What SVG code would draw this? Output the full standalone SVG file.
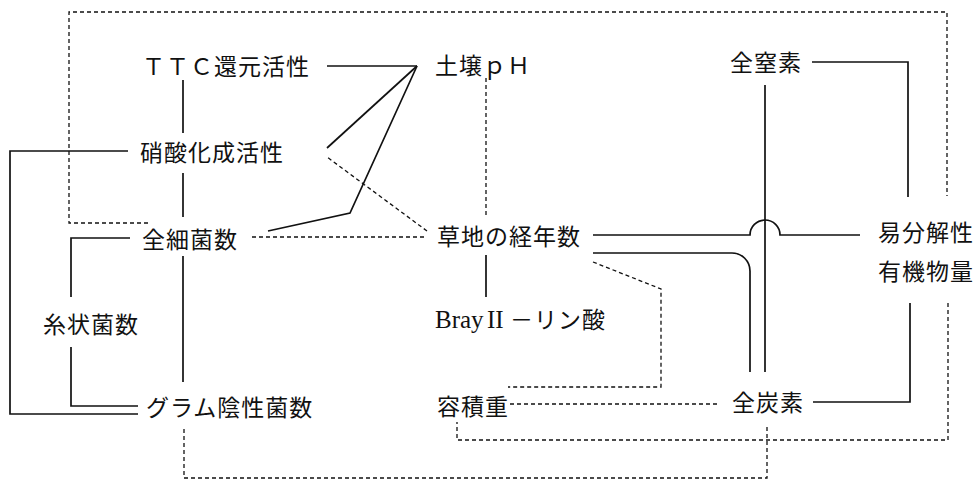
<svg xmlns="http://www.w3.org/2000/svg" width="978" height="480" viewBox="0 0 978 480">
<style>
.bg{fill:#ffffff}
text{font-family:"Noto Sans CJK JP","Noto Sans",sans-serif;font-size:23px;letter-spacing:1px;fill:#111}
.lat{font-family:"Liberation Serif",serif;font-size:25px;letter-spacing:0}
.s{fill:none;stroke:#111;stroke-width:1.7;stroke-linejoin:miter}
.d{fill:none;stroke:#111;stroke-width:1.3;stroke-dasharray:4 3}
</style>
<rect class="bg" x="0" y="0" width="978" height="480"/>
<g id="connectors">
<path class="s" d="M327,66 H417"/>
<path class="s" d="M417,66 L327,148"/>
<path class="s" d="M417,66 L350,213 L268,231"/>
<path class="s" d="M183,80 V133"/>
<path class="s" d="M183,173 V217"/>
<path class="s" d="M183,256 V382"/>
<path class="s" d="M128,151 H10 V414 H138"/>
<path class="s" d="M130,238 H71 V297"/>
<path class="s" d="M71,347 V406 H138"/>
<path class="s" d="M486,255 V297"/>
<path class="s" d="M593,235 H750 A15,15 0 0 1 780,235 H860"/>
<path class="s" d="M593,253 H732 A18,18 0 0 1 750,271 V372"/>
<path class="s" d="M765,85 V372"/>
<path class="s" d="M812,62 H908 V197"/>
<path class="s" d="M910,303 V402 H813"/>
<path class="d" d="M148,223 H69 V12 H947 V196"/>
<path class="d" d="M948,303 V440 H457 V422"/>
<path class="d" d="M427,231 L327,157"/>
<path class="d" d="M252,237 H427"/>
<path class="d" d="M486,78 V216"/>
<path class="d" d="M593,262 L661,289 V387 H508"/>
<path class="d" d="M510,404 H720"/>
<path class="d" d="M184,429 V478 H767 V425"/>
</g>
<g id="n_ttc"><text x="142" y="75">ＴＴＣ還元活性</text></g>
<g id="n_ph"><text x="435" y="74">土壌ｐＨ</text></g>
<g id="n_totalN"><text x="730" y="71">全窒素</text></g>
<g id="n_nitr"><text x="140" y="161">硝酸化成活性</text></g>
<g id="n_bact"><text x="142" y="248">全細菌数</text></g>
<g id="n_years"><text x="437" y="245">草地の経年数</text></g>
<g id="n_easy"><text x="878" y="241">易分解性</text><text x="878" y="280">有機物量</text></g>
<g id="n_fung"><text x="43" y="333">糸状菌数</text></g>
<g id="n_bray"><text x="435" y="328"><tspan class="lat">Bray</tspan><tspan class="lat" x="487" letter-spacing="3">II</tspan><tspan x="510">－リン酸</tspan></text></g>
<g id="n_gram"><text x="146" y="416">グラム陰性菌数</text></g>
<g id="n_bulk"><text x="437" y="415">容積重</text></g>
<g id="n_totalC"><text x="732" y="411">全炭素</text></g>
</svg>
